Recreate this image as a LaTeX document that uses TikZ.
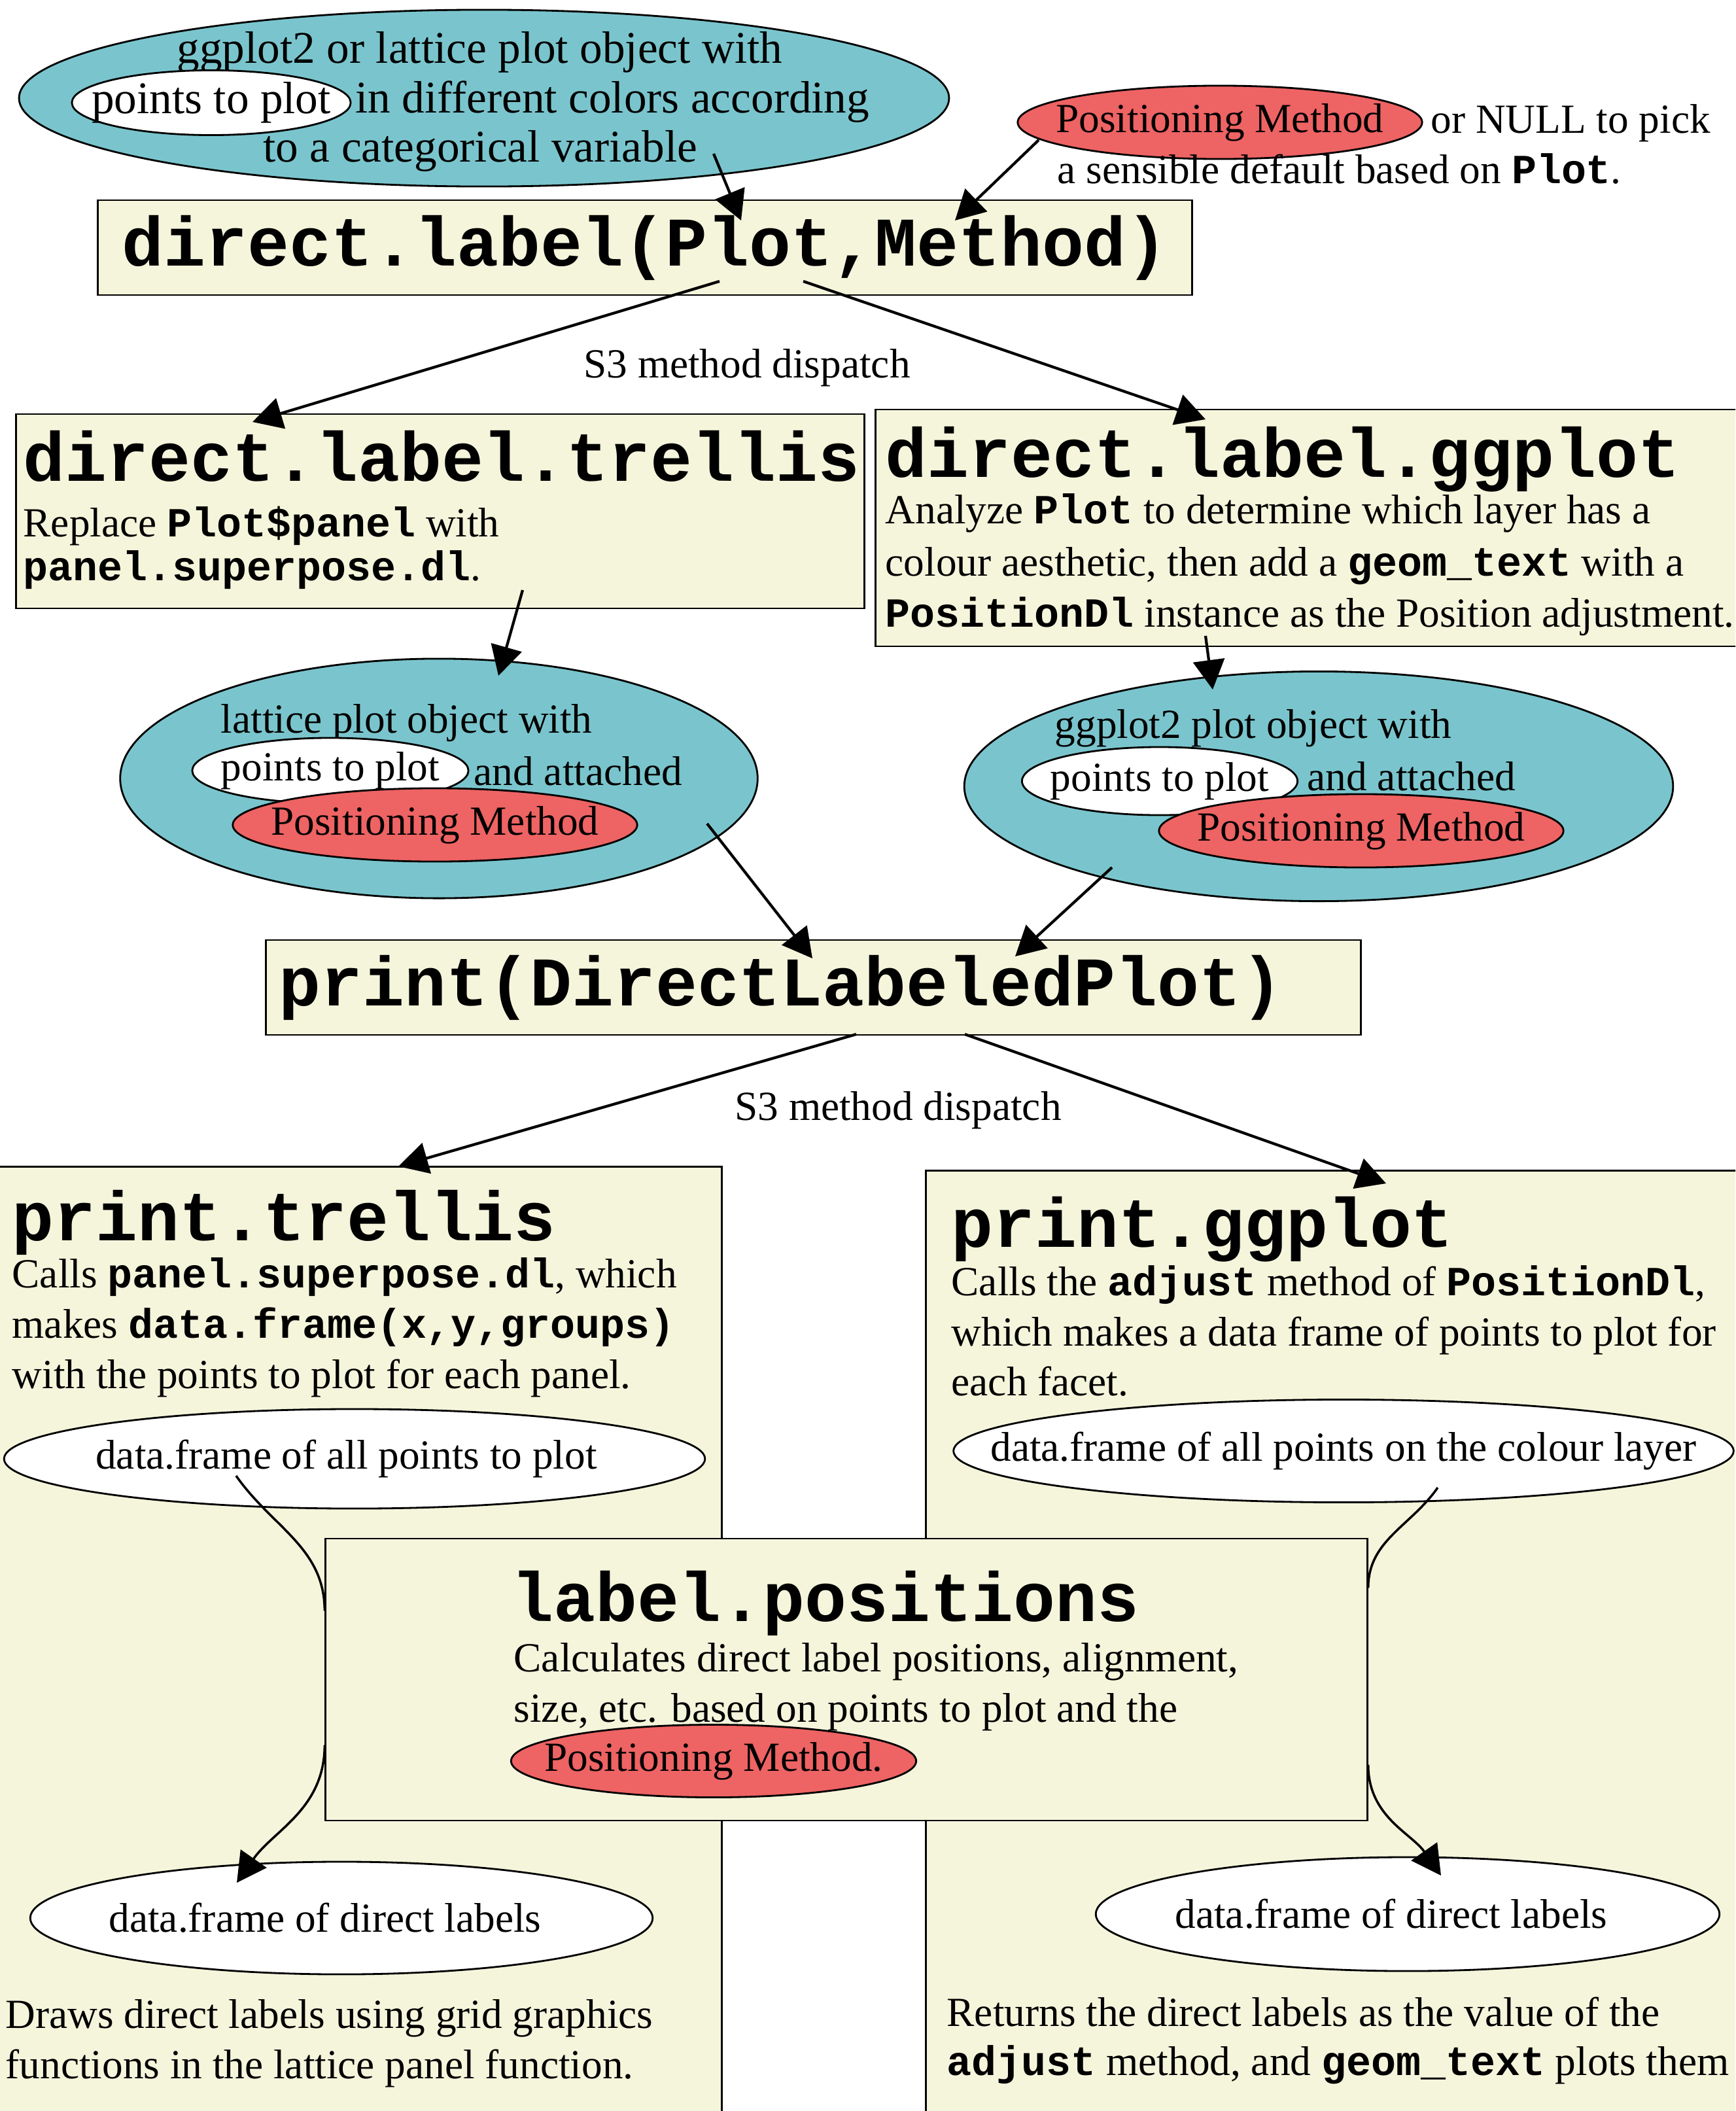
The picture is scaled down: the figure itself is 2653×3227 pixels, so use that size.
\documentclass[tikz,border=0pt]{standalone}
\usepackage{fontspec}
\setmainfont{Liberation Serif}
\setmonofont{Liberation Mono}
\usetikzlibrary{positioning,shapes.geometric,arrows.meta}

\definecolor{cadet}{HTML}{7AC5CD}
\definecolor{indian}{HTML}{EE6363}
\definecolor{boxbg}{HTML}{F5F5DC}

\newcommand{\code}[1]{\texttt{\bfseries #1}}
\newcommand{\fnname}{\fontsize{30.3}{36}\selectfont\ttfamily\bfseries}
% text that may run up to the rim of its oval
\newcommand{\ovaltext}[2][0cm]{\makebox[0pt]{#2\hspace*{#1}}}

\begin{document}
\begin{tikzpicture}[x=0.01cm,y=-0.01cm,
    font=\fontsize{18}{21.6}\selectfont,
    cbox/.style={draw,fill=boxbg,line width=0.7pt,inner sep=0pt},
    oval/.style={ellipse,draw,line width=0.8pt,inner sep=0pt},
    plotobj/.style={oval,fill=cadet},
    posmethod/.style={oval,fill=indian,minimum width=6.18cm,minimum height=1.12cm},
    dfoval/.style={oval,fill=white},
    txt/.style={anchor=base west,inner sep=0pt},
    fntitle/.style={txt,font=\fnname},
    bigtxt/.style={font=\fontsize{19.7}{23.6}\selectfont},
    conn/.style={line width=1pt},
    arr/.style={line width=1.2pt,-{Triangle[length=0.45cm,width=0.48cm]}}]

    \useasboundingbox (0,0) rectangle (2653,3227);
    \clip (0,0) rectangle (2653,3227);

    % Input plot and method
    \node[plotobj,minimum width=14.21cm,minimum height=2.7cm] (plot) at (740,150) {};
    \node[txt,bigtxt] (plot-1) at (270,97) {ggplot2 or lattice plot object with};
    \node[dfoval,bigtxt,minimum width=4.26cm,minimum height=0.99cm] (pts0) at (323,157) {\ovaltext{points to plot}};
    \node[txt,bigtxt] (plot-2) at (543,172) {in different colors according};
    \node[txt,bigtxt] (plot-3) at (402,247) {to a categorical variable};

    \node[posmethod] (pm0) at (1865,187) {\ovaltext{Positioning Method}};
    \node[txt] (pm0-1) at (2187,203) {or NULL to pick};
    \node[txt] (pm0-2) at (1616,280) {a sensible default based on \code{Plot}.};

    \node[cbox,minimum width=16.72cm,minimum height=1.45cm,font=\fnname] (dl) at (986,378.5) {direct.label(Plot,Method)};

    \node (s3a) at (1142,562) {S3 method dispatch};

    % direct.label methods
    \node[cbox,minimum width=12.96cm,minimum height=2.97cm] (dlt) at (673,781.5) {};
    \node[fntitle] (dlt-t) at (35,735) {direct.label.trellis};
    \node[txt] (dlt-1) at (35,820) {Replace \code{Plot\$panel} with};
    \node[txt] (dlt-2) at (35,887) {\code{panel.superpose.dl}.};

    \node[cbox,minimum width=13.61cm,minimum height=3.62cm] (dlg) at (2019.5,807) {};
    \node[fntitle] (dlg-t) at (1353,729) {direct.label.ggplot};
    \node[txt] (dlg-1) at (1353,800) {Analyze \code{Plot} to determine which layer has a};
    \node[txt] (dlg-2) at (1353,880) {colour aesthetic, then add a \code{geom\_text} with a};
    \node[txt] (dlg-3) at (1353,958) {\code{PositionDl} instance as the Position adjustment.};

    % Plot objects with attached method
    \node[plotobj,minimum width=9.74cm,minimum height=3.66cm] (lat) at (671,1190) {};
    \node[txt] (lat-1) at (337,1120) {lattice plot object with};
    \node[dfoval,minimum width=4.22cm,minimum height=1cm] (pts1) at (505,1178) {\ovaltext{points to plot}};
    \node[txt] (lat-2) at (724,1200) {and attached};
    \node[posmethod] (pm1) at (665,1261) {\ovaltext{Positioning Method}};

    \node[plotobj,minimum width=10.83cm,minimum height=3.51cm] (gg) at (2016,1202) {};
    \node[txt] (gg-1) at (1612,1128) {ggplot2 plot object with};
    \node[dfoval,minimum width=4.21cm,minimum height=1.04cm] (pts2) at (1773,1194) {\ovaltext{points to plot}};
    \node[txt] (gg-2) at (1998,1208) {and attached};
    \node[posmethod] (pm2) at (2081,1270) {\ovaltext{Positioning Method}};

    \node[cbox,minimum width=16.73cm,minimum height=1.45cm] (pr) at (1243.5,1509.5) {};
    \node[font=\fnname,anchor=west,inner sep=0pt] (pr-t) at (426,1509.5) {print(DirectLabeledPlot)};

    \node (s3b) at (1373,1697) {S3 method dispatch};

    % print methods
    \node[cbox,minimum width=11.23cm,minimum height=14.76cm] (prt) at (541.5,2522) {};
    \node[fntitle] (prt-t) at (18,1896) {print.trellis};
    \node[txt] (prt-1) at (18,1968) {Calls \code{panel.superpose.dl}, which};
    \node[txt] (prt-2) at (18,2045) {makes \code{data.frame(x,y,groups)}};
    \node[txt] (prt-3) at (18,2122) {with the points to plot for each panel.};
    \node[dfoval,minimum width=10.71cm,minimum height=1.52cm] (dfall) at (542,2230) {\ovaltext[0.25cm]{data.frame of all points to plot}};
    \node[dfoval,minimum width=9.51cm,minimum height=1.72cm] (dlab1) at (522,2932) {\ovaltext[0.5cm]{data.frame of direct labels}};
    \node[txt] (prt-4) at (8,3100) {Draws direct labels using grid graphics};
    \node[txt] (prt-5) at (8,3177) {functions in the lattice panel function.};

    \node[cbox,minimum width=13.04cm,minimum height=14.7cm] (prg) at (2068,2525) {};
    \node[fntitle] (prg-t) at (1454,1906) {print.ggplot};
    \node[txt] (prg-1) at (1454,1980) {Calls the \code{adjust} method of \code{PositionDl},};
    \node[txt] (prg-2) at (1454,2057) {which makes a data frame of points to plot for};
    \node[txt] (prg-3) at (1454,2133) {each facet.};
    \node[dfoval,minimum width=11.92cm,minimum height=1.57cm] (dfcol) at (2054,2218) {\ovaltext{data.frame of all points on the colour layer}};
    \node[dfoval,minimum width=9.53cm,minimum height=1.74cm] (dlab2) at (2152,2926) {\ovaltext[0.5cm]{data.frame of direct labels}};
    \node[txt] (prg-4) at (1447,3097) {Returns the direct labels as the value of the};
    \node[txt] (prg-5) at (1447,3172) {\code{adjust} method, and \code{geom\_text} plots them};

    % Shared label positions
    \node[cbox,minimum width=15.92cm,minimum height=4.31cm] (lp) at (1294,2567.5) {};
    \node[fntitle] (lp-t) at (782,2478) {label.positions};
    \node[txt] (lp-1) at (785,2555) {Calculates direct label positions, alignment,};
    \node[txt] (lp-2) at (785,2632) {size, etc. based on points to plot and the};
    \node[posmethod,minimum width=6.19cm,minimum height=1.11cm] (pm3) at (1091,2692) {\ovaltext{Positioning Method.}};

    % Ports
    \coordinate (plot-out) at (1091,235);
    \coordinate (dl-plot) at (1133,337);
    \coordinate (pm0-out) at (1588,214);
    \coordinate (dl-method) at (1460,337);
    \coordinate (dl-outl) at (1100,430);
    \coordinate (dl-outr) at (1228,430);
    \coordinate (dlt-in) at (386,645);
    \coordinate (dlg-in) at (1843,641);
    \coordinate (dlt-out) at (799,902);
    \coordinate (lat-in) at (762,1033);
    \coordinate (dlg-out) at (1843,972);
    \coordinate (gg-in) at (1854,1054);
    \coordinate (lat-out) at (1081,1259);
    \coordinate (gg-out) at (1700,1326);
    \coordinate (pr-inl) at (1242,1465);
    \coordinate (pr-inr) at (1552,1462);
    \coordinate (pr-outl) at (1309,1581);
    \coordinate (pr-outr) at (1475,1581);
    \coordinate (prt-in) at (609,1783);
    \coordinate (prg-in) at (2119,1809);
    \coordinate (dfall-out) at (361,2256);
    \coordinate (dfcol-out) at (2198,2274);
    \coordinate (dlab1-in) at (362,2878);
    \coordinate (dlab2-in) at (2203,2867);

    % Draw arrows
    \draw[arr] (plot-out) -- (dl-plot);
    \draw[arr] (pm0-out) -- (dl-method);
    \draw[arr] (dl-outl) -- (dlt-in);
    \draw[arr] (dl-outr) -- (dlg-in);
    \draw[arr] (dlt-out) -- (lat-in);
    \draw[arr] (dlg-out) -- (gg-in);
    \draw[arr] (lat-out) -- (pr-inl);
    \draw[arr] (gg-out) -- (pr-inr);
    \draw[arr] (pr-outl) -- (prt-in);
    \draw[arr] (pr-outr) -- (prg-in);

    \draw[conn] (dfall-out) to[out=-55,in=90] ([yshift=1.05cm]lp.west);
    \draw[arr,line width=1pt] ([yshift=-1cm]lp.west) to[out=-90,in=55] (dlab1-in);
    \draw[conn] (dfcol-out) to[out=-125,in=90] ([yshift=1.4cm]lp.east);
    \draw[arr,line width=1pt] ([yshift=-1.3cm]lp.east) to[out=-90,in=125] (dlab2-in);
\end{tikzpicture}
\end{document}
